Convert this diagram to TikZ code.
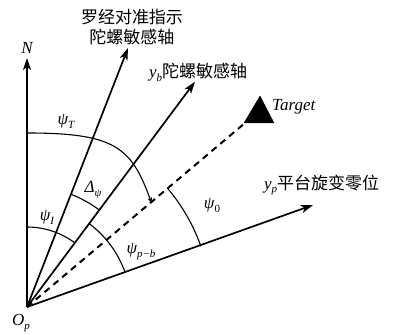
\documentclass[tikz,border=0pt]{standalone}
\usepackage{fontspec}
\setmainfont{Liberation Serif}
\newfontfamily\cjk{Noto Sans CJK SC}
\usetikzlibrary{arrows.meta,calc}
\newcommand\sbs[1]{\raisebox{-0.5ex}{\fontsize{11}{11}\selectfont #1}}
\tikzset{
  axis/.style={line width=1.7pt,-{Stealth[length=12pt,width=8pt,inset=3pt]}},
  angarc/.style={line width=1.1pt},
  tgtline/.style={line width=2pt,dash pattern=on 6.5pt off 5pt},
  lbl/.style={inner sep=0pt,font=\fontsize{17}{20}\selectfont\itshape},
  cjklbl/.style={inner sep=0pt,font=\fontsize{17}{20}\selectfont},
}
\begin{document}
\begin{tikzpicture}[x=1pt,y=1pt]
\useasboundingbox (0,0) rectangle (402,335);
\coordinate (O) at (27,28);
\coordinate (Ntip) at (27,277);
\coordinate (Ctip) at (128,287);
\coordinate (Btip) at (195,253.3);
\coordinate (Ptip) at (313,130);
\coordinate (Tend) at (245,212);
% axes
\draw[axis] (O) -- (Ntip);
\draw[axis] (O) -- (Ctip);
\draw[axis] (O) -- (Btip);
\draw[axis] (O) -- (Ptip);
\draw[tgtline] (O) -- (Tend);
% target triangle
\filldraw[black] (260,239) -- (244,212) -- (274,212) -- cycle;
% arcs
\draw[angarc] ($(O)+(90:80)$) arc[start angle=90,end angle=53.3,radius=80];
\draw[angarc] ($(O)+(68.7:121)$) arc[start angle=68.7,end angle=53.3,radius=121];
\draw[angarc] ($(O)+(53.3:104)$) arc[start angle=53.3,end angle=19.6,radius=104];
\draw[angarc] ($(O)+(40.2:184)$) arc[start angle=40.2,end angle=19.6,radius=187];
\draw[angarc,-{Stealth[length=6pt,width=4.5pt]}] ($(O)+(0,174)$) .. controls ($(O)+(88,174)$) and ($(O)+(104.3,160)$) .. ($(O)+(124.7,103.7)$);
% labels
\node[cjklbl,align=center] (clbl) at (132,308) {\cjk 罗经对准指示\\\cjk 陀螺敏感轴};
\node[cjklbl,anchor=west] (blbl) at (149,263) {\itshape y\sbs{b}\cjk\upshape 陀螺敏感轴};
\node[cjklbl,anchor=west] (plbl) at (264,150) {\itshape y\sbs{p}\cjk\upshape 平台旋变零位};
\node[lbl,anchor=west] (tlbl) at (272,228) {Target};
\node[lbl] (nlbl) at (27,287) {N};
\node[lbl] (olbl) at (21,12) {O\sbs{p}};
\node[lbl] (psiT) at (66,214) {ψ\sbs{T}};
\node[lbl] (dpsi) at (93,145) {Δ\sbs{ψ}};
\node[lbl] (psiI) at (47,118) {ψ\sbs{I}};
\node[lbl] (psipb) at (141,83) {ψ\sbs{p−b}};
\node[lbl] (psi0) at (212,130) {ψ\sbs{\upshape 0}};
\end{tikzpicture}
\end{document}
